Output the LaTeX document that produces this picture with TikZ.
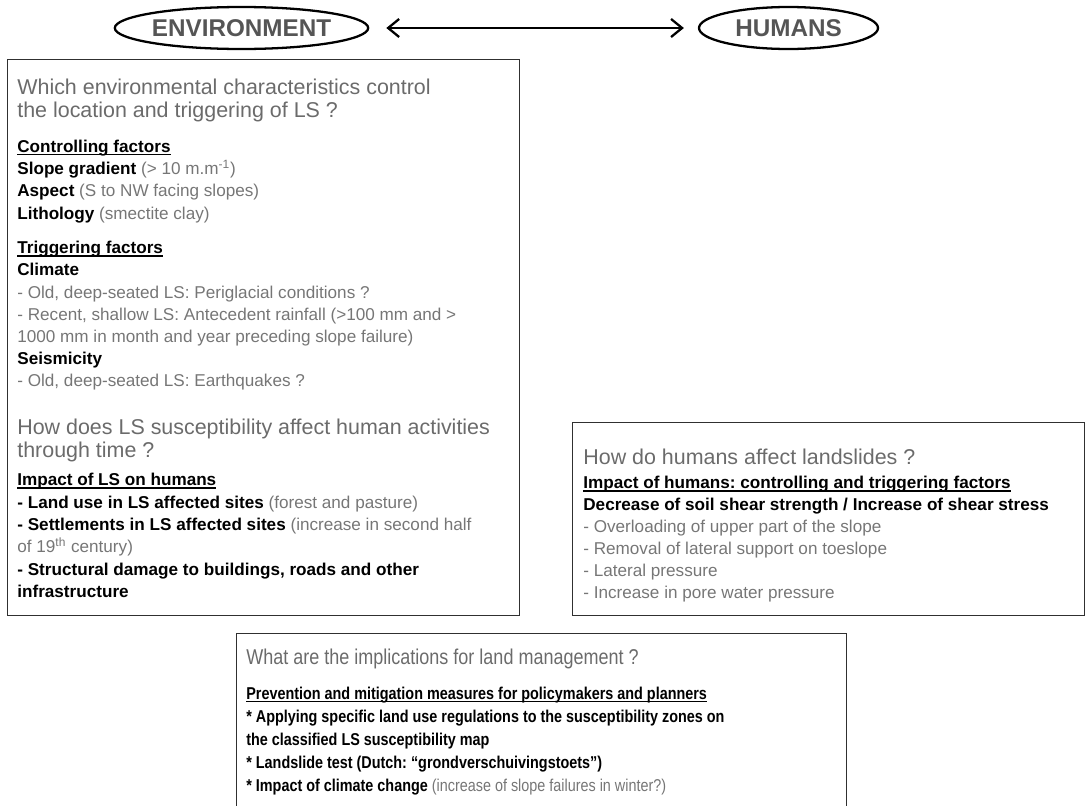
\documentclass[tikz,border=0pt]{standalone}
\usepackage{fontspec}
\setmainfont{Liberation Sans}
\newfontfamily\narrowsf[FakeStretch=0.84]{Liberation Sans}
\usetikzlibrary{arrows.meta, positioning, shapes.geometric}
\frenchspacing
\definecolor{qgrey}{HTML}{6B6B6B}
\definecolor{notegrey}{HTML}{767676}
\definecolor{titlegrey}{HTML}{555555}
\definecolor{frame}{HTML}{303030}
\newcommand{\aside}[1]{{\mdseries\color{notegrey}#1}}
\newcommand{\factorhead}[1]{\textbf{\setbox0\hbox{#1}\rlap{\rule[-1.5pt]{\wd0}{0.65pt}}\box0}}
% text blocks are placed by the baseline of their last line
\tikzset{
  x=0.02cm, y=-0.02cm,
  pole/.style={
    ellipse, draw=black, line width=1.3pt, inner sep=0pt,
    minimum height=0.84cm, text=titlegrey,
    font=\fontsize{13.8}{15}\selectfont\bfseries
  },
  link/.style={
    {Straight Barb[length=2.2mm,width=3.6mm]}-{Straight Barb[length=2.2mm,width=3.6mm]},
    line width=1.3pt
  },
  panel/.style={draw=frame, line width=0.8pt, anchor=north west, inner sep=0pt},
  question/.style={
    anchor=base west, inner sep=0pt, align=left, text=qgrey,
    font=\fontsize{12.2}{13.3}\selectfont
  },
  body/.style={
    anchor=base west, inner sep=0pt, align=left,
    font=\fontsize{9.75}{#1}\selectfont
  },
  body/.default=12.6pt
}

\begin{document}
\begin{tikzpicture}
  \useasboundingbox (0,0) rectangle (1085,805);
  % the two poles
  \node[pole, minimum width=4.74cm] (envell) at (241.5,28) {ENVIRONMENT};
  \node[pole, minimum width=3.58cm] (humell) at (788.5,28) {HUMANS};
  \draw[link, shorten <=0.34cm, shorten >=0.28cm] (envell) -- (humell);

  % environment panel
  \node[panel, minimum width=10.24cm, minimum height=11.12cm] (envbox) at (7,59) {};
  \node[question] (envq1) at (17,117.5)
    {Which environmental characteristics control\\the location and triggering of LS ?};
  \node[body=12.58pt] (envctrl) at (17,219)
    {\factorhead{Controlling factors}\\
     \textbf{Slope gradient} \aside{(> 10 m.m\textsuperscript{-1})}\\
     \textbf{Aspect} \aside{(S to NW facing slopes)}\\
     \textbf{Lithology} \aside{(smectite clay)}};
  \node[body=12.58pt] (envtrig) at (17,386.5)
    {\factorhead{Triggering factors}\\
     \textbf{Climate}\\
     \aside{- Old, deep-seated LS: Periglacial conditions ?}\\
     \aside{- Recent, shallow LS: Antecedent rainfall (>100 mm and >}\\
     \aside{1000 mm in month and year preceding slope failure)}\\
     \textbf{Seismicity}\\
     \aside{- Old, deep-seated LS: Earthquakes ?}};
  \node[question] (envq2) at (17,457.5)
    {How does LS susceptibility affect human activities\\through time ?};
  \node[body=12.7pt] (envimpact) at (17,597.5)
    {\factorhead{Impact of LS on humans}\\
     \textbf{- Land use in LS affected sites} \aside{(forest and pasture)}\\
     \textbf{- Settlements in LS affected sites} \aside{(increase in second half}\\
     \aside{of 19\textsuperscript{th} century)}\\
     \textbf{- Structural damage to buildings, roads and other}\\
     \textbf{infrastructure}};

  % humans panel
  \node[panel, minimum width=10.24cm, minimum height=3.86cm] (humbox) at (572,422) {};
  \node[question] (humq) at (583,464) {How do humans affect landslides ?};
  \node[body=12.47pt] (humfac) at (583,598.5)
    {\factorhead{Impact of humans: controlling and triggering factors}\\
     \textbf{Decrease of soil shear strength / Increase of shear stress}\\
     \aside{- Overloading of upper part of the slope}\\
     \aside{- Removal of lateral support on toeslope}\\
     \aside{- Lateral pressure}\\
     \aside{- Increase in pore water pressure}};

  % management panel
  \node[panel, minimum width=12.2cm, minimum height=4cm] (mgmtbox) at (236,633) {};
  \node[question, font=\narrowsf\fontsize{12.2}{13.3}\selectfont] (mgmtq) at (246,664)
    {What are the implications for land management ?};
  \node[body, font=\narrowsf\fontsize{9.75}{13.15}\selectfont] (mgmtmeas) at (246,791.5)
    {\factorhead{Prevention and mitigation measures for policymakers and planners}\\
     \textbf{* Applying specific land use regulations to the susceptibility zones on}\\
     \textbf{the classified LS susceptibility map}\\
     \textbf{* Landslide test (Dutch: “grondverschuivingstoets”)}\\
     \textbf{* Impact of climate change} \aside{(increase of slope failures in winter?)}};
\end{tikzpicture}
\end{document}
